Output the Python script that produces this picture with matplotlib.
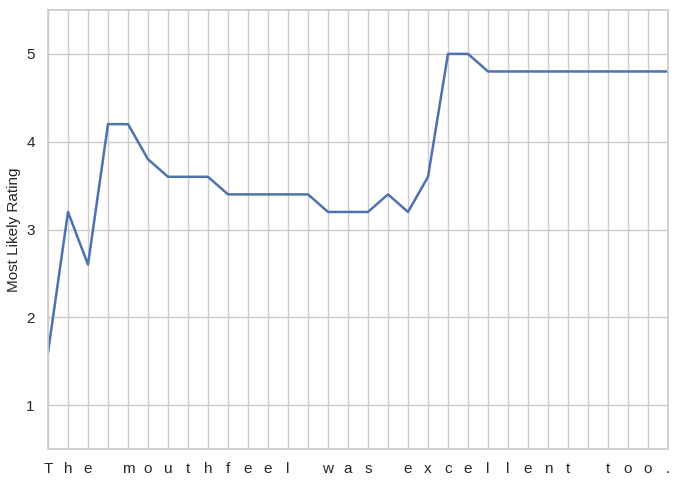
import matplotlib
matplotlib.use("Agg")
import matplotlib.pyplot as plt
import seaborn as sns

sns.set_theme(style="whitegrid")
plt.rcParams['font.family'] = ['Liberation Sans', 'DejaVu Sans']

sentence = "The mouthfeel was excellent too."
chars = list(sentence)
ratings = [1.6, 3.2, 2.6, 4.2, 4.2, 3.8, 3.6, 3.6, 3.6, 3.4,
           3.4, 3.4, 3.4, 3.4, 3.2, 3.2, 3.2, 3.4, 3.2, 3.6,
           5.0, 5.0, 4.8, 4.8, 4.8, 4.8, 4.8, 4.8, 4.8, 4.8,
           4.8, 4.8]

fig = plt.figure(figsize=(6.8, 4.83), dpi=100)
ax = fig.add_axes([48 / 680, 1 - 449 / 483, 620 / 680, 439 / 483])

x = list(range(len(chars)))
ax.plot(x, ratings, color='#4c72b0', linewidth=1.8)
ax.set_xlim(0, len(chars) - 1)
ax.set_ylim(0.5, 5.5)
ax.set_xticks(x)
ax.set_xticklabels(chars, fontsize=11)
ax.set_yticks([1, 2, 3, 4, 5])
ax.tick_params(axis='y', labelsize=11)
ax.set_ylabel('Most Likely Rating', fontsize=11)

fig.savefig('out.png', dpi=100)
